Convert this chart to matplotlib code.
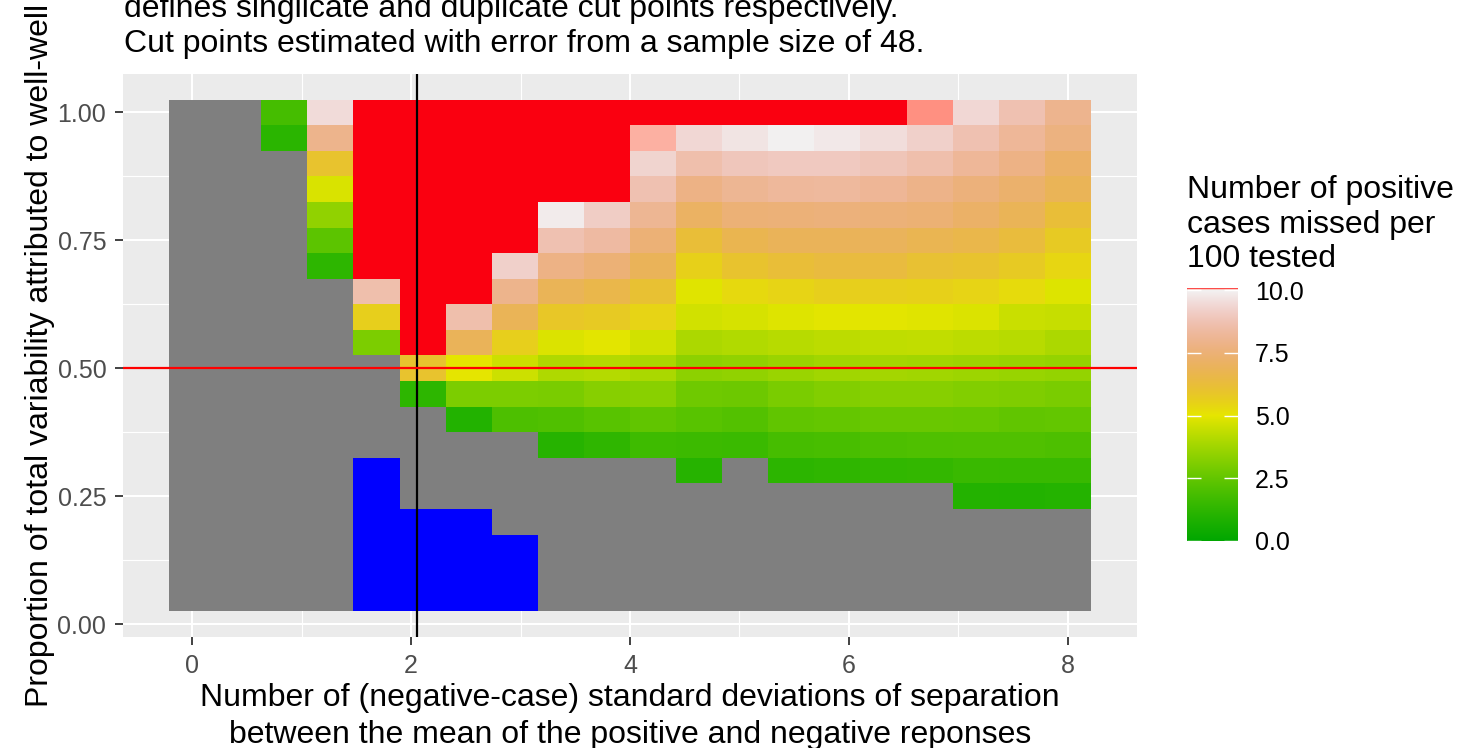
import colorsys
import numpy as np
import matplotlib
matplotlib.use("Agg")
import matplotlib.pyplot as plt
from matplotlib.colors import LinearSegmentedColormap

plt.rcParams['font.family'] = ['Liberation Sans', 'DejaVu Sans']

G = np.nan    # no estimate (grey)
R = 10.08     # more than 10 missed (red)
B = -1.0      # blue region

# x: number of negative-case SDs of separation, y: proportion of well-well variability
sd_sep = [0.00, 0.42, 0.84, 1.26, 1.68, 2.11, 2.53, 2.95, 3.37, 3.79,
          4.21, 4.63, 5.05, 5.47, 5.89, 6.32, 6.74, 7.16, 7.58, 8.00]
well_prop = [1.00, 0.95, 0.90, 0.85, 0.80, 0.75, 0.70, 0.65, 0.60, 0.55,
             0.50, 0.45, 0.40, 0.35, 0.30, 0.25, 0.20, 0.15, 0.10, 0.05]

# positive cases missed per 100 tested, one row per well_prop value (top to bottom)
missed = [
    [G, G, 1.82, 9.5, R, R, R, R, R, R, R, R, R, R, R, R, 10.042, 9.4, 8.7, 8.0],
    [G, G, 1.16, 7.95, R, R, R, R, R, R, 10.03, 9.4, 9.7, 9.95, 9.8, 9.55, 9.2, 8.7, 8.2, 7.7],
    [G, G, G, 6.0, R, R, R, R, R, R, 9.3, 8.6, 8.9, 9.0, 9.0, 8.85, 8.6, 8.2, 7.8, 7.2],
    [G, G, G, 4.78, R, R, R, R, R, R, 8.7, 7.8, 8.1, 8.25, 8.3, 8.15, 7.9, 7.6, 7.3, 6.85],
    [G, G, G, 3.46, R, R, R, R, 9.85, 9.1, 8.1, 7.1, 7.5, 7.55, 7.6, 7.55, 7.45, 7.2, 6.85, 6.2],
    [G, G, G, 2.35, R, R, R, R, 8.7, 8.4, 7.5, 6.2, 6.7, 6.9, 6.9, 6.95, 6.75, 6.6, 6.3, 5.75],
    [G, G, G, 1.25, R, R, R, 9.2, 7.8, 7.5, 6.9, 5.55, 6.0, 6.2, 6.35, 6.35, 6.1, 6.0, 5.75, 5.4],
    [G, G, G, G, 8.6, R, R, 7.95, 6.85, 6.6, 6.1, 4.9, 5.3, 5.45, 5.6, 5.6, 5.55, 5.45, 5.25, 4.85],
    [G, G, G, G, 5.6, R, 8.6, 6.85, 5.85, 5.75, 5.45, 4.64, 4.73, 4.87, 4.96, 4.96, 4.91, 4.82, 4.5, 4.45],
    [G, G, G, G, 3.04, R, 6.9, 5.6, 4.82, 4.96, 4.64, 3.98, 4.07, 4.17, 4.27, 4.32, 4.36, 4.27, 4.17, 3.98],
    [G, G, G, G, G, 6.0, 5.0, 4.55, 4.03, 4.13, 3.94, 3.37, 3.46, 3.63, 3.77, 3.82, 3.77, 3.68, 3.6, 3.52],
    [G, G, G, G, G, 1.25, 3.04, 3.04, 3.0, 3.25, 3.3, 2.77, 2.72, 2.99, 3.16, 3.25, 3.25, 3.16, 3.09, 2.99],
    [G, G, G, G, G, G, 0.95, 2.0, 2.08, 2.27, 2.47, 2.27, 2.14, 2.45, 2.52, 2.63, 2.63, 2.58, 2.47, 2.5],
    [G, G, G, G, G, G, G, G, 1.07, 1.28, 1.67, 1.61, 1.56, 1.86, 1.9, 2.0, 2.05, 2.08, 2.08, 2.0],
    [G, G, G, G, B, G, G, G, G, G, G, 1.07, G, 1.22, 1.28, 1.33, 1.39, 1.54, 1.52, 1.52],
    [G, G, G, G, B, G, G, G, G, G, G, G, G, G, G, G, G, 0.97, 0.96, 1.01],
    [G, G, G, G, B, B, B, G, G, G, G, G, G, G, G, G, G, G, G, G],
    [G, G, G, G, B, B, B, B, G, G, G, G, G, G, G, G, G, G, G, G],
    [G, G, G, G, B, B, B, B, G, G, G, G, G, G, G, G, G, G, G, G],
    [G, G, G, G, B, B, B, B, G, G, G, G, G, G, G, G, G, G, G, G],
]

cut_sd = 2.05      # vertical reference line
cut_prop = 0.50    # horizontal reference line
tick_vals = [0, 2.5, 5, 7.5, 10]
tick_text = ['0.0', '2.5', '5.0', '7.5', '10.0']


def terrain_stops(vmax, steps=25):
    # same path as R's terrain.colors, yellow at 5 and near white at 10
    stops = []
    for t in np.linspace(0, 1, steps):
        stops.append((5 * t / vmax, colorsys.hsv_to_rgb(4/12 - 2/12 * t, 1, 0.65 + 0.25 * t)))
    for t in np.linspace(0, 1, steps)[1:]:
        stops.append(((5 + 5 * t) / vmax, colorsys.hsv_to_rgb(2/12 * (1 - t), 1 - t, 0.9 + 0.05 * t)))
    return stops


stops = terrain_stops(R)
stops.append((10.04 / R, '#FF9A88'))
stops.append((1.0, '#FA0010'))
cmap = LinearSegmentedColormap.from_list('missed', stops, N=16384)
cmap.set_bad('#7F7F7F')
cmap.set_under('#0000FF')

fig = plt.figure(figsize=(14.7, 7.48), dpi=100)
ax = fig.add_axes([123/1470, 1 - 637/748, (1137 - 123)/1470, (637 - 74)/748])
ax.set_facecolor('#EBEBEB')

Z = np.ma.masked_invalid(np.array(missed))
mesh = ax.pcolormesh(sd_sep, well_prop, Z, shading='nearest', cmap=cmap, vmin=0, vmax=R)
ax.axvline(cut_sd, color='black', lw=1.6)
ax.axhline(cut_prop, color='red', lw=1.6)

ax.set_xlim(-0.631, 8.631)
ax.set_ylim(-0.025, 1.075)
ax.set_xticks([0, 2, 4, 6, 8])
ax.set_xticks([1, 3, 5, 7], minor=True)
ax.set_yticks([0, 0.25, 0.5, 0.75, 1.0])
ax.set_yticklabels(['0.00', '0.25', '0.50', '0.75', '1.00'])
ax.set_yticks([0.125, 0.375, 0.625, 0.875], minor=True)
ax.grid(which='major', color='white', lw=1.5)
ax.grid(which='minor', color='white', lw=0.8)
ax.set_axisbelow(True)
for s in ax.spines.values():
    s.set_visible(False)
ax.tick_params(which='major', length=6, width=1.3, color='#333333',
               labelsize=18, labelcolor='#4D4D4D', pad=6)
ax.tick_params(which='minor', length=0)

ax.set_xlabel('Number of (negative-case) standard deviations of separation\n'
              'between the mean of the positive and negative reponses',
              fontsize=23, linespacing=1.3, labelpad=4)
ax.set_ylabel('Proportion of total variability attributed to well-well',
              fontsize=23, labelpad=2)

fig.text(124/1470, 1 - 17/748, 'defines singlicate and duplicate cut points respectively.',
         fontsize=23, va='baseline', ha='left')
fig.text(124/1470, 1 - 52/748, 'Cut points estimated with error from a sample size of 48.',
         fontsize=23, va='baseline', ha='left')

cax = fig.add_axes([1187/1470, 1 - 541/748, 51/1470, 253/748])
cb = fig.colorbar(mesh, cax=cax, ticks=tick_vals)
cb.set_ticklabels(tick_text)
cb.outline.set_visible(False)
cax.tick_params(left=True, right=True, direction='in', length=10, width=1,
                color='white', labelsize=18, labelcolor='black', pad=12)

for i, line in enumerate(['Number of positive', 'cases missed per', '100 tested']):
    fig.text(1187/1470, 1 - (198 + 34.5 * i)/748, line, fontsize=23,
             va='baseline', ha='left')

fig.savefig('out.png', dpi=100)
